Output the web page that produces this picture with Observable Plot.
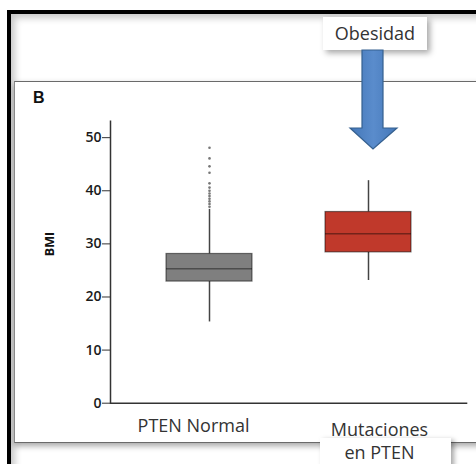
<!DOCTYPE html>
<html>
<head>
<meta charset="utf-8">
<script src="https://cdn.jsdelivr.net/npm/d3@7"></script>
<script src="https://cdn.jsdelivr.net/npm/@observablehq/plot@0.6"></script>
<style>
  html, body { margin: 0; padding: 0; background: #fff; }
  #wrap { position: relative; width: 476px; height: 464px; overflow: hidden; background: #fff; font-family: "Open Sans", sans-serif; }
  .abs { position: absolute; }
  #outer { left: 7px; top: 10px; width: 520px; height: 520px; border-left: 4px solid #000; border-top: 4px solid #000; box-shadow: inset 4px 4px 7px #c8c8c8; }
  #panel { left: 14px; top: 81px; width: 520px; height: 360px; border-left: 1.5px solid #8a8a8a; border-top: 1.5px solid #6a6a6a; border-bottom: 1.5px solid #6a6a6a; background: #fff; box-shadow: 0 3px 6px rgba(0,0,0,0.35); }
  #labelbox { left: 320px; top: 438px; width: 131px; height: 40px; background: #fff; box-shadow: 3px 2px 5px rgba(0,0,0,0.35); }
  #obes { left: 323px; top: 17px; width: 104px; height: 33px; background: #fff; box-shadow: 3px 3px 6px rgba(0,0,0,0.35); font-size: 18px; color: #333; text-align: center; line-height: 33px; }
  #blabel { left: 33px; top: 89px; font-family: "Liberation Sans", Arial, sans-serif; font-weight: bold; font-size: 16px; color: #111; }
  #plotholder { left: 0; top: 0; }
  #arrow { left: 345px; top: 48px; }
</style>
</head>
<body>
<div id="wrap">
  <div id="outer" class="abs"></div>
  <div id="panel" class="abs"></div>
  <div id="labelbox" class="abs"></div>
  <div id="plotholder" class="abs"></div>
  <div id="blabel" class="abs">B</div>
  <div id="obes" class="abs">Obesidad</div>
  <svg id="arrow" class="abs" width="60" height="110" viewBox="0 0 60 110">
    <defs>
      <linearGradient id="ag" x1="0" x2="1" y1="0" y2="0">
        <stop offset="0" stop-color="#4477b8"/>
        <stop offset="0.5" stop-color="#5a8ccc"/>
        <stop offset="1" stop-color="#4477b8"/>
      </linearGradient>
    </defs>
    <polygon points="17,2 38,2 38,80 52,80 28,101 5,80 17,80" fill="url(#ag)" stroke="#35608f" stroke-width="1.2"/>
  </svg>
</div>
<script>
const categories = ["PTEN Normal", "Mutaciones en PTEN"];
const whiskerLow = [15.3, 23.1];
const q1 = [22.9, 28.4];
const median = [25.3, 31.9];
const q3 = [28.1, 36.0];
const whiskerHigh = [36.5, 41.9];
const outliersNormal = [37.0, 37.5, 38.0, 38.5, 39.0, 39.5, 40.0, 40.6, 41.4, 43.4, 44.6, 46.1, 48.1];
const yTicks = [0, 10, 20, 30, 40, 50];

const rows = categories.map((c, i) => ({
  cat: c, lo: whiskerLow[i], q1: q1[i], med: median[i], q3: q3[i], hi: whiskerHigh[i]
}));
const outliers = outliersNormal.map(v => ({cat: categories[0], v}));

const plot = Plot.plot({
  width: 476,
  height: 464,
  marginLeft: 110,
  marginRight: 8.7,
  marginTop: 120.7,
  marginBottom: 61.3,
  style: {background: "transparent", fontFamily: "Open Sans, sans-serif", color: "#222"},
  x: {type: "band", domain: categories, paddingInner: 0.459, paddingOuter: 0.348, axis: null},
  y: {domain: [0, 53.1], axis: null},
  color: {domain: categories, range: ["#7f7f7f", "#c0392b"]},
  marks: [
    Plot.ruleX(rows, {x: "cat", y1: "lo", y2: "q1", stroke: "#444", strokeWidth: 1.5}),
    Plot.ruleX(rows, {x: "cat", y1: "q3", y2: "hi", stroke: "#444", strokeWidth: 1.5}),
    Plot.dot(outliers, {x: "cat", y: "v", r: 1.3, fill: "#777", stroke: null}),
    Plot.barY(rows, {x: "cat", y1: "q1", y2: "q3", fill: "cat", stroke: "black", strokeOpacity: 0.5, strokeWidth: 1.2}),
    Plot.tickY(rows, {x: "cat", y: "med", stroke: "black", strokeOpacity: 0.4, strokeWidth: 1.5}),
    Plot.ruleY([0], {stroke: "#333", strokeWidth: 1.5}),
    Plot.frame({anchor: "left", stroke: "#333", strokeWidth: 1.5}),
    Plot.axisY({ticks: yTicks, tickSize: 8, tickPadding: 1, fontSize: 14, fontWeight: 600, label: null, stroke: "#333", fill: "#1a1a1a"}),
    Plot.text(["BMI"], {frameAnchor: "left", rotate: -90, dx: -61, dy: -6, fontSize: 12.5, fontWeight: "bold", fill: "#111"}),
    Plot.axisX({ticks: [categories[0]], tickSize: 0, tickPadding: 16, fontSize: 18, dx: -16, label: null, fill: "#333"}),
    Plot.axisX({ticks: [categories[1]], tickSize: 0, tickPadding: 16, fontSize: 18, dx: 11, label: null, fill: "#333", lineHeight: 1.3,
      tickFormat: d => d === "Mutaciones en PTEN" ? "Mutaciones\nen PTEN" : d})
  ]
});
document.getElementById("plotholder").appendChild(plot);
</script>
</body>
</html>
